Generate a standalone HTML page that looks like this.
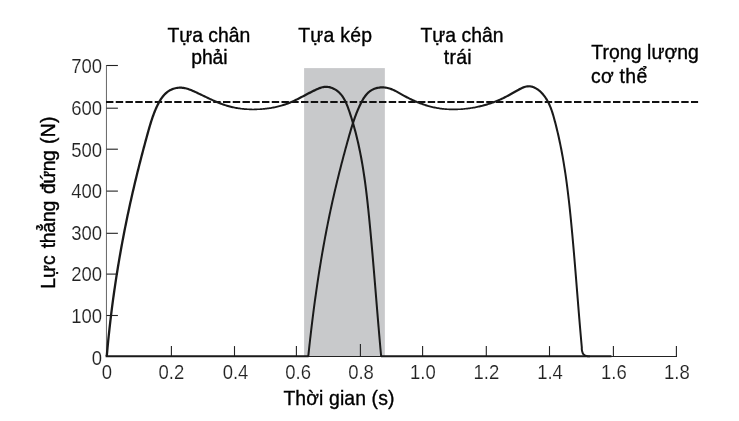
<!DOCTYPE html>
<html><head><meta charset="utf-8"><title>Lực thẳng đứng</title>
<style>html,body{margin:0;padding:0;background:#fff}svg{display:block}text{font-family:"Liberation Sans",Arial,sans-serif}.tk{fill:#222;stroke:#fff;stroke-width:0.15;font-size:18.5px}.lb{fill:#000;stroke:#000;stroke-width:0.35;font-size:19.4px}</style></head><body>
<svg width="739" height="421" viewBox="0 0 739 421">
<rect x="0" y="0" width="739" height="421" fill="#fff"/>
<rect x="304.1" y="68.1" width="80.75" height="288.3" fill="#c8c9cb"/>
<path d="M106.45,65 V356.5" stroke="#555" stroke-width="0.9" fill="none"/>
<g stroke="#222" stroke-width="1.1" fill="none">
<path d="M106,356.5 H677"/>
<path d="M106.5,65.5 H117.9"/>
<path d="M106.5,108.2 H117.9"/>
<path d="M106.5,149.2 H117.9"/>
<path d="M106.5,191.1 H117.9"/>
<path d="M106.5,233.3 H117.9"/>
<path d="M106.5,274.1 H117.9"/>
<path d="M106.5,315.5 H117.9"/>
<path d="M171.4,346.1 V356.5"/>
<path d="M234.5,346.1 V356.5"/>
<path d="M296.4,346.1 V356.5"/>
<path d="M360.4,344.1 V356.5"/>
<path d="M422.6,346.1 V356.5"/>
<path d="M486.3,346.1 V356.5"/>
<path d="M549.5,346.1 V356.5"/>
<path d="M613.4,346.1 V356.5"/>
<path d="M676.4,346.1 V356.5"/>
</g>
<path d="M106.0,102 H698.1" stroke="#111" stroke-width="2" stroke-dasharray="7.4 2.35" fill="none"/>
<path d="M105.6,356.3 H308.6 M381,356.3 H611.5" stroke="#1a1a1a" stroke-width="1.9" fill="none"/>
<path d="M107.92,356.31 L108.01,355.31 L108.10,354.31 L108.19,353.32 L108.28,352.32 L108.37,351.32 L108.46,350.32 L108.55,349.32 L108.64,348.33 L108.73,347.33 L108.83,346.33 L108.92,345.33 L109.02,344.34 L109.12,343.34 L109.22,342.34 L109.31,341.35 L109.41,340.35 L109.51,339.35 L109.62,338.36 L109.72,337.36 L109.82,336.36 L109.92,335.37 L110.03,334.37 L110.13,333.38 L110.24,332.38 L110.35,331.39 L110.46,330.39 L110.56,329.40 L110.67,328.40 L110.78,327.41 L110.90,326.41 L111.01,325.42 L111.12,324.42 L111.24,323.43 L111.35,322.43 L111.47,321.44 L111.58,320.44 L111.70,319.45 L111.82,318.46 L111.94,317.46 L112.06,316.47 L112.18,315.48 L112.30,314.48 L112.42,313.49 L112.55,312.50 L112.67,311.51 L112.79,310.51 L112.92,309.52 L113.05,308.53 L113.17,307.54 L113.30,306.54 L113.43,305.55 L113.56,304.56 L113.69,303.57 L113.83,302.58 L113.96,301.58 L114.09,300.59 L114.23,299.60 L114.36,298.61 L114.50,297.62 L114.63,296.63 L114.77,295.64 L114.91,294.65 L115.05,293.66 L115.19,292.67 L115.33,291.68 L115.47,290.69 L115.61,289.70 L115.76,288.71 L115.90,287.72 L116.05,286.73 L116.19,285.74 L116.34,284.75 L116.49,283.76 L116.64,282.77 L116.79,281.78 L116.94,280.79 L117.09,279.81 L117.24,278.82 L117.39,277.83 L117.55,276.84 L117.70,275.85 L117.86,274.87 L118.01,273.88 L118.17,272.89 L118.33,271.90 L118.49,270.91 L118.65,269.93 L118.81,268.94 L118.97,267.95 L119.13,266.97 L119.29,265.98 L119.46,264.99 L119.62,264.01 L119.79,263.02 L119.95,262.03 L120.12,261.05 L120.29,260.06 L120.46,259.08 L120.63,258.09 L120.80,257.10 L120.97,256.12 L121.14,255.13 L121.31,254.15 L121.49,253.16 L121.66,252.18 L121.84,251.19 L122.01,250.21 L122.19,249.22 L122.37,248.24 L122.55,247.26 L122.73,246.27 L122.91,245.29 L123.09,244.30 L123.27,243.32 L123.45,242.34 L123.64,241.35 L123.82,240.37 L124.01,239.39 L124.19,238.40 L124.38,237.42 L124.57,236.44 L124.76,235.45 L124.95,234.47 L125.14,233.49 L125.33,232.51 L125.52,231.52 L125.71,230.54 L125.91,229.56 L126.10,228.58 L126.30,227.60 L126.49,226.62 L126.69,225.63 L126.89,224.65 L127.09,223.67 L127.28,222.69 L127.49,221.71 L127.69,220.73 L127.89,219.75 L128.09,218.77 L128.29,217.79 L128.50,216.81 L128.70,215.83 L128.91,214.85 L129.12,213.87 L129.33,212.89 L129.53,211.91 L129.74,210.93 L129.95,209.95 L130.17,208.97 L130.38,207.99 L130.59,207.01 L130.80,206.03 L131.02,205.05 L131.23,204.07 L131.45,203.09 L131.67,202.12 L131.88,201.14 L132.10,200.16 L132.32,199.18 L132.54,198.20 L132.76,197.23 L132.98,196.25 L133.21,195.27 L133.43,194.29 L133.65,193.32 L133.88,192.34 L134.11,191.36 L134.33,190.39 L134.56,189.41 L134.79,188.43 L135.02,187.46 L135.25,186.48 L135.48,185.51 L135.71,184.53 L135.94,183.56 L136.17,182.58 L136.41,181.61 L136.64,180.63 L136.87,179.66 L137.11,178.68 L137.35,177.71 L137.58,176.73 L137.82,175.76 L138.06,174.79 L138.30,173.81 L138.54,172.84 L138.78,171.87 L139.02,170.90 L139.26,169.92 L139.51,168.95 L139.75,167.98 L139.99,167.01 L140.24,166.04 L140.48,165.07 L140.73,164.10 L140.98,163.13 L141.22,162.16 L141.47,161.19 L141.72,160.22 L141.97,159.25 L142.22,158.28 L142.47,157.31 L142.72,156.35 L142.97,155.38 L143.23,154.41 L143.48,153.45 L143.73,152.48 L143.99,151.51 L144.24,150.55 L144.50,149.58 L144.76,148.62 L145.01,147.65 L145.27,146.69 L145.53,145.72 L145.79,144.76 L146.05,143.80 L146.31,142.83 L146.57,141.87 L146.83,140.91 L147.09,139.95 L147.35,138.99 L147.62,138.02 L147.88,137.06 L148.14,136.10 L148.41,135.14 L148.67,134.19 L148.94,133.23 L149.21,132.27 L149.47,131.31 L149.74,130.36 L150.01,129.40 L150.29,128.45 L150.56,127.49 L150.84,126.54 L151.12,125.59 L151.41,124.64 L151.70,123.69 L151.99,122.75 L152.29,121.80 L152.59,120.85 L152.90,119.91 L153.21,118.97 L153.53,118.03 L153.86,117.09 L154.19,116.15 L154.53,115.21 L154.88,114.28 L155.24,113.34 L155.60,112.41 L155.98,111.48 L156.36,110.55 L156.75,109.62 L157.16,108.69 L157.57,107.77 L157.99,106.85 L158.42,105.94 L158.87,105.03 L159.33,104.13 L159.80,103.24 L160.28,102.37 L160.78,101.51 L161.29,100.66 L161.82,99.84 L162.37,99.03 L162.93,98.24 L163.51,97.47 L164.10,96.73 L164.72,96.01 L165.35,95.31 L166.00,94.65 L166.68,94.01 L167.37,93.41 L168.09,92.83 L168.82,92.29 L169.58,91.79 L170.37,91.32 L171.18,90.88 L172.01,90.49 L172.87,90.13 L173.76,89.82 L174.67,89.54 L175.61,89.31 L176.56,89.11 L177.52,88.96 L178.49,88.86 L179.46,88.80 L180.43,88.78 L181.39,88.81 L182.34,88.88 L183.28,88.99 L184.22,89.15 L185.15,89.34 L186.08,89.56 L187.00,89.82 L187.92,90.11 L188.84,90.42 L189.75,90.76 L190.66,91.12 L191.58,91.49 L192.49,91.88 L193.40,92.29 L194.31,92.70 L195.22,93.12 L196.13,93.54 L197.05,93.96 L197.96,94.39 L198.87,94.82 L199.78,95.25 L200.68,95.69 L201.59,96.12 L202.50,96.56 L203.41,96.99 L204.32,97.43 L205.23,97.87 L206.14,98.30 L207.06,98.73 L207.97,99.16 L208.88,99.59 L209.80,100.02 L210.71,100.44 L211.63,100.86 L212.55,101.27 L213.47,101.68 L214.39,102.09 L215.32,102.48 L216.25,102.88 L217.17,103.26 L218.11,103.64 L219.04,104.02 L219.98,104.38 L220.92,104.74 L221.86,105.08 L222.81,105.42 L223.76,105.75 L224.71,106.07 L225.67,106.37 L226.63,106.66 L227.60,106.94 L228.57,107.20 L229.54,107.46 L230.52,107.70 L231.50,107.93 L232.48,108.15 L233.47,108.36 L234.45,108.55 L235.44,108.74 L236.44,108.91 L237.43,109.07 L238.43,109.22 L239.43,109.36 L240.43,109.49 L241.43,109.60 L242.43,109.71 L243.44,109.80 L244.45,109.88 L245.45,109.96 L246.46,110.02 L247.47,110.07 L248.48,110.12 L249.49,110.15 L250.51,110.17 L251.52,110.18 L252.53,110.18 L253.54,110.19 L254.56,110.18 L255.57,110.17 L256.58,110.15 L257.60,110.12 L258.61,110.08 L259.62,110.03 L260.63,109.98 L261.65,109.91 L262.66,109.84 L263.67,109.75 L264.68,109.66 L265.68,109.56 L266.69,109.44 L267.70,109.32 L268.70,109.19 L269.70,109.05 L270.71,108.90 L271.71,108.74 L272.70,108.57 L273.70,108.39 L274.69,108.20 L275.68,108.00 L276.67,107.79 L277.66,107.57 L278.64,107.33 L279.62,107.09 L280.60,106.83 L281.57,106.57 L282.54,106.29 L283.51,106.00 L284.47,105.70 L285.43,105.39 L286.38,105.06 L287.33,104.73 L288.28,104.38 L289.22,104.02 L290.16,103.65 L291.09,103.26 L292.02,102.87 L292.94,102.47 L293.86,102.06 L294.78,101.64 L295.69,101.21 L296.60,100.78 L297.50,100.34 L298.41,99.89 L299.31,99.44 L300.21,98.99 L301.11,98.53 L302.00,98.07 L302.89,97.61 L303.79,97.14 L304.68,96.68 L305.57,96.21 L306.46,95.74 L307.36,95.28 L308.25,94.82 L309.14,94.36 L310.03,93.90 L310.93,93.44 L311.82,92.98 L312.71,92.53 L313.61,92.08 L314.51,91.64 L315.41,91.20 L316.31,90.77 L317.21,90.35 L318.12,89.95 L319.02,89.57 L319.92,89.21 L320.82,88.89 L321.72,88.60 L322.62,88.36 L323.52,88.16 L324.41,88.02 L325.32,87.94 L326.22,87.92 L327.14,87.97 L328.07,88.08 L329.00,88.25 L329.93,88.48 L330.86,88.76 L331.77,89.10 L332.67,89.47 L333.55,89.89 L334.41,90.35 L335.23,90.84 L336.01,91.37 L336.77,91.92 L337.49,92.50 L338.19,93.11 L338.85,93.75 L339.49,94.41 L340.10,95.10 L340.69,95.82 L341.25,96.55 L341.79,97.31 L342.31,98.09 L342.81,98.90 L343.29,99.72 L343.75,100.55 L344.20,101.41 L344.62,102.28 L345.04,103.16 L345.44,104.06 L345.82,104.97 L346.20,105.89 L346.56,106.82 L346.92,107.76 L347.26,108.71 L347.60,109.66 L347.94,110.62 L348.26,111.58 L348.59,112.54 L348.91,113.50 L349.23,114.46 L349.54,115.43 L349.86,116.39 L350.16,117.35 L350.47,118.32 L350.77,119.28 L351.06,120.25 L351.36,121.21 L351.64,122.18 L351.93,123.15 L352.21,124.11 L352.49,125.08 L352.77,126.05 L353.04,127.02 L353.31,127.99 L353.58,128.95 L353.84,129.92 L354.10,130.89 L354.36,131.87 L354.61,132.84 L354.86,133.81 L355.11,134.78 L355.35,135.75 L355.59,136.72 L355.83,137.70 L356.07,138.67 L356.30,139.64 L356.53,140.62 L356.76,141.59 L356.98,142.57 L357.20,143.54 L357.42,144.52 L357.64,145.50 L357.85,146.47 L358.06,147.45 L358.27,148.43 L358.47,149.40 L358.67,150.38 L358.87,151.36 L359.07,152.34 L359.27,153.32 L359.46,154.30 L359.65,155.28 L359.84,156.26 L360.02,157.24 L360.21,158.22 L360.39,159.20 L360.57,160.18 L360.74,161.16 L360.92,162.15 L361.09,163.13 L361.26,164.11 L361.43,165.10 L361.59,166.08 L361.75,167.06 L361.92,168.05 L362.08,169.03 L362.23,170.02 L362.39,171.00 L362.54,171.99 L362.69,172.97 L362.84,173.96 L362.99,174.94 L363.14,175.93 L363.28,176.92 L363.43,177.90 L363.57,178.89 L363.71,179.88 L363.85,180.87 L363.98,181.85 L364.12,182.84 L364.25,183.83 L364.38,184.82 L364.51,185.81 L364.64,186.80 L364.77,187.79 L364.89,188.78 L365.02,189.77 L365.14,190.76 L365.26,191.75 L365.38,192.74 L365.50,193.73 L365.62,194.72 L365.74,195.71 L365.86,196.70 L365.97,197.70 L366.08,198.69 L366.20,199.68 L366.31,200.67 L366.42,201.67 L366.53,202.66 L366.64,203.65 L366.75,204.64 L366.85,205.64 L366.96,206.63 L367.06,207.63 L367.17,208.62 L367.27,209.61 L367.38,210.61 L367.48,211.60 L367.58,212.60 L367.68,213.59 L367.78,214.59 L367.88,215.58 L367.98,216.58 L368.08,217.57 L368.18,218.57 L368.28,219.56 L368.37,220.56 L368.47,221.55 L368.57,222.55 L368.66,223.55 L368.76,224.54 L368.86,225.54 L368.95,226.53 L369.05,227.53 L369.14,228.53 L369.24,229.52 L369.33,230.52 L369.42,231.52 L369.52,232.51 L369.61,233.51 L369.70,234.51 L369.79,235.51 L369.89,236.50 L369.98,237.50 L370.07,238.50 L370.16,239.49 L370.25,240.49 L370.34,241.49 L370.43,242.49 L370.52,243.49 L370.61,244.48 L370.70,245.48 L370.79,246.48 L370.88,247.48 L370.97,248.47 L371.05,249.47 L371.14,250.47 L371.23,251.47 L371.32,252.47 L371.41,253.47 L371.49,254.46 L371.58,255.46 L371.67,256.46 L371.75,257.46 L371.84,258.46 L371.92,259.46 L372.01,260.46 L372.10,261.45 L372.18,262.45 L372.27,263.45 L372.35,264.45 L372.44,265.45 L372.52,266.45 L372.61,267.45 L372.69,268.45 L372.78,269.44 L372.86,270.44 L372.94,271.44 L373.03,272.44 L373.11,273.44 L373.19,274.44 L373.28,275.44 L373.36,276.44 L373.44,277.44 L373.53,278.44 L373.61,279.43 L373.69,280.43 L373.78,281.43 L373.86,282.43 L373.94,283.43 L374.03,284.43 L374.11,285.43 L374.19,286.43 L374.27,287.43 L374.36,288.43 L374.44,289.43 L374.52,290.43 L374.60,291.42 L374.69,292.42 L374.77,293.42 L374.85,294.42 L374.93,295.42 L375.01,296.42 L375.10,297.42 L375.18,298.42 L375.26,299.42 L375.34,300.42 L375.43,301.42 L375.51,302.41 L375.59,303.41 L375.67,304.41 L375.76,305.41 L375.84,306.41 L375.92,307.41 L376.00,308.41 L376.09,309.41 L376.17,310.40 L376.25,311.40 L376.33,312.40 L376.42,313.40 L376.50,314.40 L376.58,315.40 L376.67,316.40 L376.75,317.39 L376.83,318.39 L376.92,319.39 L377.00,320.39 L377.08,321.39 L377.17,322.39 L377.25,323.38 L377.34,324.38 L377.42,325.38 L377.51,326.38 L377.59,327.37 L377.68,328.37 L377.76,329.37 L377.85,330.37 L377.93,331.37 L378.02,332.36 L378.10,333.36 L378.19,334.36 L378.27,335.35 L378.36,336.35 L378.45,337.35 L378.53,338.35 L378.62,339.34 L378.71,340.34 L378.79,341.34 L378.88,342.33 L378.97,343.33 L379.06,344.33 L379.15,345.32 L379.23,346.32 L379.32,347.31 L379.41,348.31 L379.50,349.31 L379.59,350.30 L379.68,351.30 L379.77,352.29 L379.86,353.29 L379.95,354.28 L380.04,355.28 L380.13,356.27 L382.13,356.09 L382.03,355.10 L381.94,354.10 L381.85,353.11 L381.76,352.11 L381.67,351.12 L381.58,350.12 L381.50,349.13 L381.41,348.13 L381.32,347.14 L381.23,346.14 L381.14,345.15 L381.05,344.15 L380.97,343.15 L380.88,342.16 L380.79,341.16 L380.70,340.17 L380.62,339.17 L380.53,338.17 L380.44,337.18 L380.36,336.18 L380.27,335.18 L380.19,334.19 L380.10,333.19 L380.02,332.19 L379.93,331.19 L379.85,330.20 L379.76,329.20 L379.68,328.20 L379.59,327.21 L379.51,326.21 L379.42,325.21 L379.34,324.21 L379.25,323.21 L379.17,322.22 L379.09,321.22 L379.00,320.22 L378.92,319.22 L378.84,318.23 L378.75,317.23 L378.67,316.23 L378.59,315.23 L378.51,314.23 L378.42,313.23 L378.34,312.24 L378.26,311.24 L378.17,310.24 L378.09,309.24 L378.01,308.24 L377.93,307.24 L377.85,306.24 L377.76,305.25 L377.68,304.25 L377.60,303.25 L377.52,302.25 L377.43,301.25 L377.35,300.25 L377.27,299.25 L377.19,298.25 L377.11,297.25 L377.02,296.25 L376.94,295.26 L376.86,294.26 L376.78,293.26 L376.70,292.26 L376.61,291.26 L376.53,290.26 L376.45,289.26 L376.37,288.26 L376.29,287.26 L376.20,286.26 L376.12,285.26 L376.04,284.26 L375.96,283.27 L375.87,282.27 L375.79,281.27 L375.71,280.27 L375.62,279.27 L375.54,278.27 L375.46,277.27 L375.38,276.27 L375.29,275.27 L375.21,274.27 L375.13,273.27 L375.04,272.27 L374.96,271.27 L374.88,270.27 L374.79,269.27 L374.71,268.28 L374.62,267.28 L374.54,266.28 L374.45,265.28 L374.37,264.28 L374.28,263.28 L374.20,262.28 L374.11,261.28 L374.03,260.28 L373.94,259.28 L373.86,258.28 L373.77,257.29 L373.69,256.29 L373.60,255.29 L373.51,254.29 L373.43,253.29 L373.34,252.29 L373.25,251.29 L373.16,250.29 L373.08,249.29 L372.99,248.30 L372.90,247.30 L372.81,246.30 L372.72,245.30 L372.63,244.30 L372.54,243.30 L372.45,242.31 L372.36,241.31 L372.27,240.31 L372.18,239.31 L372.09,238.31 L372.00,237.31 L371.91,236.32 L371.82,235.32 L371.73,234.32 L371.63,233.32 L371.54,232.33 L371.45,231.33 L371.36,230.33 L371.26,229.33 L371.17,228.34 L371.07,227.34 L370.98,226.34 L370.88,225.34 L370.79,224.35 L370.69,223.35 L370.60,222.35 L370.50,221.36 L370.40,220.36 L370.30,219.36 L370.21,218.37 L370.11,217.37 L370.01,216.37 L369.91,215.38 L369.81,214.38 L369.71,213.39 L369.61,212.39 L369.51,211.39 L369.41,210.40 L369.30,209.40 L369.20,208.41 L369.09,207.41 L368.99,206.42 L368.88,205.42 L368.78,204.43 L368.67,203.43 L368.56,202.44 L368.45,201.44 L368.34,200.45 L368.23,199.45 L368.12,198.46 L368.00,197.46 L367.89,196.47 L367.77,195.47 L367.65,194.48 L367.54,193.49 L367.42,192.49 L367.30,191.50 L367.17,190.51 L367.05,189.51 L366.93,188.52 L366.80,187.53 L366.67,186.54 L366.54,185.54 L366.41,184.55 L366.28,183.56 L366.15,182.57 L366.01,181.58 L365.88,180.58 L365.74,179.59 L365.60,178.60 L365.46,177.61 L365.32,176.62 L365.17,175.63 L365.03,174.64 L364.88,173.65 L364.73,172.66 L364.57,171.67 L364.42,170.68 L364.27,169.69 L364.11,168.70 L363.95,167.72 L363.79,166.73 L363.62,165.74 L363.46,164.75 L363.29,163.76 L363.12,162.78 L362.95,161.79 L362.77,160.80 L362.60,159.82 L362.42,158.83 L362.24,157.84 L362.05,156.86 L361.87,155.87 L361.68,154.89 L361.49,153.90 L361.30,152.92 L361.10,151.93 L360.90,150.95 L360.70,149.97 L360.50,148.98 L360.29,148.00 L360.08,147.02 L359.87,146.03 L359.66,145.05 L359.44,144.07 L359.22,143.09 L359.00,142.11 L358.78,141.13 L358.55,140.15 L358.32,139.17 L358.09,138.19 L357.85,137.21 L357.61,136.23 L357.37,135.25 L357.12,134.27 L356.88,133.29 L356.63,132.31 L356.37,131.34 L356.11,130.36 L355.85,129.38 L355.59,128.41 L355.32,127.43 L355.05,126.46 L354.78,125.48 L354.50,124.51 L354.22,123.53 L353.94,122.56 L353.65,121.58 L353.36,120.61 L353.06,119.64 L352.77,118.66 L352.47,117.69 L352.16,116.72 L351.85,115.75 L351.54,114.78 L351.23,113.81 L350.91,112.84 L350.58,111.87 L350.26,110.90 L349.93,109.93 L349.59,108.96 L349.24,107.99 L348.89,107.03 L348.53,106.07 L348.16,105.11 L347.77,104.16 L347.38,103.22 L346.96,102.29 L346.54,101.37 L346.09,100.45 L345.63,99.55 L345.14,98.67 L344.63,97.80 L344.10,96.94 L343.55,96.11 L342.97,95.29 L342.37,94.49 L341.73,93.72 L341.07,92.96 L340.37,92.24 L339.64,91.53 L338.88,90.86 L338.08,90.21 L337.25,89.60 L336.38,89.02 L335.48,88.47 L334.54,87.96 L333.57,87.49 L332.57,87.07 L331.55,86.70 L330.52,86.37 L329.46,86.11 L328.40,85.91 L327.33,85.78 L326.26,85.72 L325.20,85.73 L324.15,85.82 L323.12,85.98 L322.10,86.19 L321.10,86.46 L320.11,86.76 L319.13,87.11 L318.17,87.48 L317.22,87.88 L316.28,88.29 L315.35,88.72 L314.43,89.15 L313.51,89.59 L312.60,90.03 L311.69,90.48 L310.78,90.94 L309.88,91.39 L308.98,91.86 L308.08,92.33 L307.19,92.80 L306.30,93.28 L305.41,93.75 L304.52,94.23 L303.64,94.71 L302.75,95.18 L301.87,95.65 L300.98,96.12 L300.10,96.59 L299.21,97.05 L298.33,97.51 L297.44,97.97 L296.55,98.42 L295.66,98.86 L294.77,99.30 L293.88,99.73 L292.99,100.15 L292.09,100.56 L291.19,100.96 L290.29,101.36 L289.38,101.74 L288.47,102.12 L287.55,102.48 L286.64,102.83 L285.71,103.17 L284.78,103.49 L283.85,103.81 L282.92,104.12 L281.98,104.41 L281.03,104.70 L280.08,104.97 L279.13,105.23 L278.18,105.48 L277.22,105.72 L276.25,105.95 L275.29,106.18 L274.32,106.39 L273.35,106.59 L272.37,106.78 L271.40,106.96 L270.42,107.13 L269.44,107.29 L268.45,107.44 L267.47,107.58 L266.48,107.72 L265.49,107.84 L264.50,107.95 L263.51,108.06 L262.51,108.16 L261.52,108.24 L260.52,108.32 L259.52,108.39 L258.53,108.46 L257.53,108.51 L256.53,108.55 L255.53,108.59 L254.54,108.61 L253.54,108.63 L252.54,108.63 L251.54,108.61 L250.55,108.58 L249.55,108.54 L248.56,108.50 L247.56,108.44 L246.57,108.37 L245.58,108.29 L244.59,108.20 L243.60,108.11 L242.62,108.00 L241.63,107.88 L240.65,107.75 L239.67,107.61 L238.70,107.46 L237.72,107.30 L236.75,107.12 L235.78,106.94 L234.81,106.74 L233.85,106.54 L232.89,106.32 L231.94,106.09 L230.98,105.85 L230.03,105.60 L229.09,105.34 L228.14,105.06 L227.21,104.77 L226.27,104.48 L225.34,104.17 L224.41,103.85 L223.48,103.53 L222.55,103.19 L221.63,102.85 L220.71,102.49 L219.79,102.13 L218.87,101.76 L217.95,101.39 L217.04,101.00 L216.12,100.61 L215.21,100.21 L214.30,99.81 L213.39,99.40 L212.48,98.99 L211.58,98.57 L210.67,98.14 L209.76,97.72 L208.85,97.29 L207.95,96.86 L207.04,96.42 L206.14,95.98 L205.23,95.55 L204.32,95.11 L203.41,94.67 L202.51,94.23 L201.60,93.79 L200.69,93.35 L199.78,92.91 L198.86,92.48 L197.95,92.04 L197.03,91.61 L196.12,91.18 L195.20,90.76 L194.27,90.34 L193.35,89.92 L192.41,89.52 L191.47,89.12 L190.52,88.75 L189.56,88.39 L188.60,88.05 L187.62,87.74 L186.63,87.46 L185.63,87.22 L184.62,87.00 L183.60,86.83 L182.56,86.70 L181.51,86.62 L180.45,86.58 L179.38,86.60 L178.31,86.66 L177.24,86.77 L176.18,86.94 L175.12,87.14 L174.09,87.40 L173.07,87.70 L172.08,88.05 L171.11,88.45 L170.17,88.89 L169.27,89.37 L168.39,89.90 L167.54,90.46 L166.72,91.05 L165.93,91.68 L165.17,92.35 L164.43,93.04 L163.72,93.76 L163.03,94.51 L162.37,95.29 L161.73,96.08 L161.11,96.90 L160.51,97.74 L159.93,98.59 L159.37,99.46 L158.83,100.35 L158.31,101.25 L157.80,102.16 L157.31,103.08 L156.84,104.01 L156.37,104.95 L155.93,105.89 L155.49,106.83 L155.07,107.77 L154.66,108.72 L154.26,109.67 L153.86,110.62 L153.48,111.57 L153.11,112.52 L152.74,113.47 L152.39,114.42 L152.04,115.37 L151.70,116.33 L151.37,117.28 L151.04,118.23 L150.72,119.19 L150.41,120.15 L150.10,121.10 L149.80,122.06 L149.50,123.02 L149.21,123.98 L148.92,124.93 L148.63,125.89 L148.35,126.85 L148.08,127.81 L147.80,128.77 L147.53,129.73 L147.26,130.69 L146.99,131.65 L146.72,132.61 L146.46,133.57 L146.19,134.53 L145.93,135.49 L145.66,136.46 L145.40,137.42 L145.14,138.38 L144.87,139.34 L144.61,140.31 L144.35,141.27 L144.09,142.23 L143.83,143.20 L143.57,144.16 L143.31,145.13 L143.05,146.09 L142.79,147.06 L142.53,148.02 L142.28,148.99 L142.02,149.96 L141.77,150.93 L141.51,151.89 L141.26,152.86 L141.00,153.83 L140.75,154.80 L140.50,155.77 L140.24,156.74 L139.99,157.71 L139.74,158.68 L139.49,159.65 L139.24,160.62 L139.00,161.59 L138.75,162.56 L138.50,163.53 L138.25,164.50 L138.01,165.48 L137.76,166.45 L137.52,167.42 L137.27,168.39 L137.03,169.37 L136.79,170.34 L136.55,171.32 L136.31,172.29 L136.07,173.26 L135.83,174.24 L135.59,175.21 L135.35,176.19 L135.11,177.16 L134.87,178.14 L134.64,179.12 L134.40,180.09 L134.17,181.07 L133.93,182.05 L133.70,183.02 L133.47,184.00 L133.24,184.98 L133.01,185.95 L132.78,186.93 L132.55,187.91 L132.32,188.89 L132.09,189.87 L131.86,190.84 L131.64,191.82 L131.41,192.80 L131.19,193.78 L130.96,194.76 L130.74,195.74 L130.52,196.72 L130.30,197.70 L130.08,198.68 L129.86,199.66 L129.64,200.64 L129.42,201.62 L129.20,202.60 L128.99,203.58 L128.77,204.56 L128.56,205.54 L128.34,206.52 L128.13,207.50 L127.92,208.48 L127.71,209.46 L127.49,210.45 L127.28,211.43 L127.08,212.41 L126.87,213.39 L126.66,214.37 L126.45,215.35 L126.25,216.34 L126.04,217.32 L125.84,218.30 L125.64,219.28 L125.43,220.27 L125.23,221.25 L125.03,222.23 L124.83,223.21 L124.63,224.20 L124.43,225.18 L124.24,226.16 L124.04,227.15 L123.84,228.13 L123.65,229.11 L123.46,230.10 L123.26,231.08 L123.07,232.07 L122.88,233.05 L122.69,234.04 L122.50,235.02 L122.31,236.00 L122.12,236.99 L121.93,237.97 L121.75,238.96 L121.56,239.94 L121.37,240.93 L121.19,241.92 L121.01,242.90 L120.83,243.89 L120.64,244.87 L120.46,245.86 L120.28,246.84 L120.10,247.83 L119.93,248.82 L119.75,249.80 L119.57,250.79 L119.40,251.78 L119.22,252.76 L119.05,253.75 L118.87,254.74 L118.70,255.72 L118.53,256.71 L118.36,257.70 L118.19,258.69 L118.02,259.67 L117.85,260.66 L117.68,261.65 L117.52,262.64 L117.35,263.63 L117.19,264.62 L117.02,265.60 L116.86,266.59 L116.70,267.58 L116.54,268.57 L116.38,269.56 L116.22,270.55 L116.06,271.54 L115.90,272.53 L115.74,273.52 L115.58,274.51 L115.43,275.50 L115.27,276.49 L115.12,277.48 L114.97,278.47 L114.81,279.46 L114.66,280.45 L114.51,281.44 L114.36,282.43 L114.21,283.42 L114.07,284.41 L113.92,285.40 L113.77,286.39 L113.63,287.39 L113.48,288.38 L113.34,289.37 L113.20,290.36 L113.05,291.35 L112.91,292.34 L112.77,293.34 L112.63,294.33 L112.49,295.32 L112.36,296.31 L112.22,297.31 L112.08,298.30 L111.95,299.29 L111.81,300.29 L111.68,301.28 L111.55,302.27 L111.41,303.27 L111.28,304.26 L111.15,305.25 L111.02,306.25 L110.89,307.24 L110.77,308.24 L110.64,309.23 L110.51,310.22 L110.39,311.22 L110.26,312.21 L110.14,313.21 L110.02,314.20 L109.90,315.20 L109.77,316.19 L109.65,317.19 L109.53,318.18 L109.42,319.18 L109.30,320.18 L109.18,321.17 L109.07,322.17 L108.95,323.16 L108.84,324.16 L108.72,325.16 L108.61,326.15 L108.50,327.15 L108.39,328.15 L108.28,329.14 L108.17,330.14 L108.06,331.14 L107.95,332.14 L107.85,333.13 L107.74,334.13 L107.64,335.13 L107.53,336.13 L107.43,337.12 L107.33,338.12 L107.23,339.12 L107.12,340.12 L107.03,341.12 L106.93,342.12 L106.83,343.12 L106.73,344.11 L106.63,345.11 L106.54,346.11 L106.44,347.11 L106.35,348.11 L106.26,349.11 L106.17,350.11 L106.07,351.11 L105.98,352.11 L105.90,353.11 L105.81,354.11 L105.72,355.11 L105.63,356.11Z" fill="#1a1a1a"/>
<path d="M309.30,356.29 L309.40,355.29 L309.51,354.30 L309.61,353.30 L309.72,352.31 L309.82,351.31 L309.93,350.31 L310.03,349.32 L310.14,348.32 L310.25,347.33 L310.36,346.33 L310.47,345.34 L310.58,344.34 L310.69,343.35 L310.80,342.35 L310.91,341.36 L311.02,340.36 L311.13,339.37 L311.24,338.37 L311.36,337.38 L311.47,336.38 L311.58,335.39 L311.70,334.39 L311.81,333.40 L311.93,332.41 L312.04,331.41 L312.16,330.42 L312.28,329.42 L312.40,328.43 L312.52,327.43 L312.64,326.44 L312.75,325.45 L312.88,324.45 L313.00,323.46 L313.12,322.46 L313.24,321.47 L313.36,320.48 L313.49,319.48 L313.61,318.49 L313.73,317.49 L313.86,316.50 L313.99,315.51 L314.11,314.51 L314.24,313.52 L314.37,312.53 L314.50,311.53 L314.62,310.54 L314.75,309.55 L314.88,308.55 L315.02,307.56 L315.15,306.57 L315.28,305.58 L315.41,304.58 L315.55,303.59 L315.68,302.60 L315.81,301.61 L315.95,300.61 L316.09,299.62 L316.22,298.63 L316.36,297.64 L316.50,296.64 L316.64,295.65 L316.78,294.66 L316.92,293.67 L317.06,292.68 L317.20,291.69 L317.34,290.70 L317.48,289.70 L317.63,288.71 L317.77,287.72 L317.92,286.73 L318.06,285.74 L318.21,284.75 L318.36,283.76 L318.50,282.77 L318.65,281.78 L318.80,280.79 L318.95,279.80 L319.10,278.81 L319.25,277.82 L319.41,276.83 L319.56,275.84 L319.71,274.85 L319.87,273.86 L320.02,272.87 L320.18,271.88 L320.33,270.89 L320.49,269.90 L320.65,268.91 L320.81,267.92 L320.97,266.94 L321.13,265.95 L321.29,264.96 L321.45,263.97 L321.62,262.98 L321.78,262.00 L321.94,261.01 L322.11,260.02 L322.27,259.03 L322.44,258.04 L322.61,257.06 L322.78,256.07 L322.95,255.08 L323.12,254.10 L323.29,253.11 L323.46,252.12 L323.63,251.14 L323.80,250.15 L323.98,249.17 L324.15,248.18 L324.33,247.19 L324.50,246.21 L324.68,245.22 L324.86,244.24 L325.04,243.25 L325.22,242.27 L325.40,241.28 L325.58,240.30 L325.76,239.31 L325.95,238.33 L326.13,237.34 L326.31,236.36 L326.50,235.38 L326.69,234.39 L326.87,233.41 L327.06,232.43 L327.25,231.44 L327.44,230.46 L327.63,229.48 L327.82,228.50 L328.02,227.51 L328.21,226.53 L328.40,225.55 L328.60,224.57 L328.80,223.58 L328.99,222.60 L329.19,221.62 L329.39,220.64 L329.59,219.66 L329.79,218.68 L329.99,217.70 L330.20,216.72 L330.40,215.74 L330.60,214.76 L330.81,213.78 L331.02,212.80 L331.22,211.82 L331.43,210.84 L331.64,209.86 L331.85,208.88 L332.06,207.90 L332.27,206.93 L332.49,205.95 L332.70,204.97 L332.91,203.99 L333.13,203.01 L333.35,202.04 L333.56,201.06 L333.78,200.08 L334.00,199.11 L334.22,198.13 L334.44,197.15 L334.67,196.18 L334.89,195.20 L335.11,194.22 L335.34,193.25 L335.57,192.27 L335.79,191.30 L336.02,190.32 L336.25,189.35 L336.48,188.37 L336.71,187.40 L336.94,186.43 L337.17,185.45 L337.41,184.48 L337.64,183.51 L337.88,182.53 L338.11,181.56 L338.35,180.59 L338.59,179.61 L338.83,178.64 L339.06,177.67 L339.30,176.70 L339.55,175.73 L339.79,174.75 L340.03,173.78 L340.27,172.81 L340.52,171.84 L340.76,170.87 L341.01,169.90 L341.26,168.93 L341.50,167.96 L341.75,166.99 L342.00,166.02 L342.25,165.05 L342.50,164.08 L342.76,163.11 L343.01,162.14 L343.26,161.17 L343.52,160.21 L343.77,159.24 L344.03,158.27 L344.28,157.30 L344.54,156.34 L344.80,155.37 L345.06,154.40 L345.32,153.44 L345.58,152.47 L345.84,151.50 L346.10,150.54 L346.36,149.57 L346.63,148.61 L346.90,147.64 L347.16,146.68 L347.43,145.71 L347.70,144.75 L347.97,143.78 L348.23,142.82 L348.50,141.86 L348.78,140.89 L349.05,139.93 L349.32,138.97 L349.59,138.01 L349.87,137.04 L350.14,136.08 L350.42,135.12 L350.69,134.16 L350.97,133.20 L351.25,132.24 L351.53,131.29 L351.82,130.33 L352.10,129.37 L352.39,128.42 L352.69,127.47 L352.98,126.51 L353.28,125.56 L353.58,124.61 L353.89,123.67 L354.20,122.72 L354.52,121.77 L354.84,120.83 L355.16,119.89 L355.49,118.95 L355.82,118.01 L356.16,117.08 L356.51,116.15 L356.86,115.22 L357.22,114.29 L357.59,113.36 L357.96,112.44 L358.34,111.51 L358.72,110.60 L359.11,109.68 L359.51,108.76 L359.92,107.85 L360.34,106.95 L360.76,106.04 L361.19,105.14 L361.63,104.24 L362.08,103.34 L362.54,102.45 L363.01,101.58 L363.49,100.71 L363.98,99.86 L364.49,99.03 L365.02,98.21 L365.56,97.42 L366.12,96.65 L366.70,95.90 L367.30,95.18 L367.93,94.49 L368.58,93.83 L369.25,93.20 L369.94,92.61 L370.67,92.05 L371.42,91.53 L372.21,91.04 L373.02,90.60 L373.87,90.20 L374.76,89.84 L375.67,89.52 L376.62,89.24 L377.58,89.01 L378.56,88.82 L379.55,88.67 L380.55,88.57 L381.54,88.51 L382.53,88.49 L383.51,88.52 L384.48,88.59 L385.43,88.70 L386.37,88.85 L387.30,89.04 L388.22,89.27 L389.13,89.53 L390.03,89.82 L390.92,90.14 L391.81,90.49 L392.70,90.87 L393.58,91.26 L394.45,91.68 L395.33,92.12 L396.20,92.57 L397.07,93.04 L397.94,93.52 L398.81,94.00 L399.68,94.50 L400.56,94.99 L401.44,95.49 L402.32,95.99 L403.21,96.48 L404.10,96.97 L404.99,97.45 L405.89,97.92 L406.79,98.39 L407.70,98.85 L408.61,99.31 L409.52,99.76 L410.43,100.20 L411.35,100.63 L412.27,101.06 L413.19,101.47 L414.12,101.89 L415.05,102.29 L415.98,102.68 L416.91,103.07 L417.85,103.45 L418.79,103.82 L419.74,104.18 L420.69,104.53 L421.64,104.87 L422.59,105.20 L423.55,105.52 L424.51,105.83 L425.47,106.14 L426.43,106.43 L427.40,106.71 L428.37,106.98 L429.34,107.24 L430.32,107.49 L431.30,107.74 L432.28,107.96 L433.26,108.18 L434.25,108.39 L435.23,108.59 L436.22,108.77 L437.21,108.94 L438.21,109.10 L439.20,109.25 L440.20,109.39 L441.20,109.52 L442.20,109.63 L443.20,109.74 L444.21,109.83 L445.21,109.92 L446.22,109.99 L447.23,110.05 L448.23,110.11 L449.24,110.15 L450.25,110.18 L451.26,110.20 L452.27,110.21 L453.28,110.21 L454.30,110.21 L455.31,110.19 L456.32,110.16 L457.33,110.13 L458.34,110.10 L459.36,110.06 L460.37,110.01 L461.38,109.95 L462.39,109.88 L463.40,109.80 L464.41,109.71 L465.42,109.62 L466.43,109.51 L467.44,109.40 L468.45,109.28 L469.46,109.15 L470.46,109.02 L471.47,108.87 L472.47,108.72 L473.47,108.55 L474.47,108.38 L475.47,108.20 L476.47,108.01 L477.47,107.82 L478.46,107.61 L479.45,107.40 L480.44,107.18 L481.43,106.95 L482.41,106.71 L483.39,106.46 L484.37,106.21 L485.35,105.94 L486.32,105.67 L487.29,105.39 L488.26,105.10 L489.22,104.81 L490.18,104.50 L491.14,104.19 L492.09,103.86 L493.04,103.53 L493.98,103.19 L494.92,102.85 L495.86,102.49 L496.80,102.13 L497.72,101.75 L498.65,101.37 L499.57,100.98 L500.48,100.59 L501.39,100.18 L502.30,99.77 L503.20,99.35 L504.09,98.91 L504.98,98.48 L505.87,98.03 L506.75,97.58 L507.63,97.12 L508.50,96.65 L509.37,96.17 L510.25,95.69 L511.12,95.21 L512.00,94.72 L512.88,94.22 L513.77,93.72 L514.66,93.22 L515.56,92.71 L516.46,92.19 L517.37,91.67 L518.29,91.14 L519.22,90.63 L520.15,90.13 L521.08,89.65 L522.01,89.20 L522.93,88.79 L523.85,88.41 L524.76,88.09 L525.66,87.82 L526.55,87.61 L527.43,87.46 L528.29,87.38 L529.14,87.37 L529.99,87.43 L530.84,87.56 L531.68,87.74 L532.51,87.98 L533.34,88.28 L534.16,88.64 L534.97,89.04 L535.77,89.49 L536.56,89.99 L537.34,90.53 L538.10,91.11 L538.85,91.72 L539.58,92.37 L540.29,93.05 L540.98,93.75 L541.66,94.47 L542.31,95.22 L542.93,95.98 L543.54,96.75 L544.12,97.53 L544.67,98.33 L545.21,99.14 L545.73,99.97 L546.23,100.80 L546.70,101.65 L547.16,102.50 L547.61,103.37 L548.03,104.24 L548.45,105.13 L548.84,106.02 L549.22,106.93 L549.59,107.84 L549.95,108.75 L550.29,109.68 L550.63,110.61 L550.95,111.55 L551.26,112.49 L551.56,113.44 L551.86,114.39 L552.15,115.35 L552.43,116.31 L552.71,117.28 L552.98,118.25 L553.25,119.21 L553.51,120.19 L553.77,121.16 L554.03,122.13 L554.28,123.10 L554.54,124.08 L554.79,125.05 L555.04,126.02 L555.28,127.00 L555.52,127.97 L555.76,128.95 L556.00,129.92 L556.24,130.90 L556.47,131.87 L556.70,132.85 L556.93,133.83 L557.15,134.80 L557.38,135.78 L557.60,136.76 L557.81,137.73 L558.03,138.71 L558.24,139.69 L558.46,140.67 L558.66,141.65 L558.87,142.63 L559.08,143.61 L559.28,144.59 L559.48,145.57 L559.68,146.55 L559.87,147.53 L560.07,148.51 L560.26,149.49 L560.45,150.47 L560.64,151.46 L560.82,152.44 L561.01,153.42 L561.19,154.40 L561.37,155.39 L561.55,156.37 L561.72,157.35 L561.90,158.34 L562.07,159.32 L562.24,160.30 L562.41,161.29 L562.57,162.27 L562.74,163.26 L562.90,164.24 L563.06,165.23 L563.22,166.22 L563.38,167.20 L563.54,168.19 L563.69,169.18 L563.85,170.16 L564.00,171.15 L564.15,172.14 L564.30,173.12 L564.44,174.11 L564.59,175.10 L564.73,176.09 L564.87,177.08 L565.01,178.07 L565.15,179.05 L565.29,180.04 L565.42,181.03 L565.56,182.02 L565.69,183.01 L565.83,184.00 L565.96,184.99 L566.09,185.98 L566.21,186.97 L566.34,187.96 L566.47,188.96 L566.59,189.95 L566.72,190.94 L566.84,191.93 L566.96,192.92 L567.08,193.91 L567.20,194.91 L567.32,195.90 L567.43,196.89 L567.55,197.88 L567.66,198.88 L567.78,199.87 L567.89,200.86 L568.00,201.86 L568.11,202.85 L568.23,203.84 L568.33,204.84 L568.44,205.83 L568.55,206.83 L568.66,207.82 L568.76,208.81 L568.87,209.81 L568.97,210.80 L569.08,211.80 L569.18,212.79 L569.28,213.79 L569.39,214.79 L569.49,215.78 L569.59,216.78 L569.69,217.77 L569.79,218.77 L569.89,219.76 L569.99,220.76 L570.08,221.76 L570.18,222.75 L570.28,223.75 L570.38,224.75 L570.47,225.74 L570.57,226.74 L570.66,227.74 L570.76,228.73 L570.85,229.73 L570.94,230.73 L571.04,231.73 L571.13,232.72 L571.22,233.72 L571.32,234.72 L571.41,235.72 L571.50,236.71 L571.59,237.71 L571.68,238.71 L571.77,239.71 L571.86,240.71 L571.95,241.70 L572.04,242.70 L572.13,243.70 L572.22,244.70 L572.30,245.70 L572.39,246.69 L572.48,247.69 L572.57,248.69 L572.65,249.69 L572.74,250.69 L572.82,251.69 L572.91,252.69 L573.00,253.69 L573.08,254.68 L573.17,255.68 L573.25,256.68 L573.34,257.68 L573.42,258.68 L573.50,259.68 L573.59,260.68 L573.67,261.68 L573.76,262.68 L573.84,263.68 L573.92,264.68 L574.00,265.68 L574.09,266.68 L574.17,267.67 L574.25,268.67 L574.33,269.67 L574.42,270.67 L574.50,271.67 L574.58,272.67 L574.66,273.67 L574.74,274.67 L574.82,275.67 L574.90,276.67 L574.99,277.67 L575.07,278.67 L575.15,279.67 L575.23,280.67 L575.31,281.67 L575.39,282.67 L575.47,283.67 L575.55,284.67 L575.63,285.67 L575.71,286.67 L575.79,287.67 L575.87,288.67 L575.95,289.67 L576.03,290.67 L576.11,291.67 L576.19,292.66 L576.27,293.66 L576.35,294.66 L576.43,295.66 L576.51,296.66 L576.59,297.66 L576.68,298.66 L576.76,299.66 L576.84,300.66 L576.92,301.66 L577.00,302.66 L577.08,303.66 L577.16,304.66 L577.24,305.66 L577.32,306.66 L577.40,307.65 L577.48,308.65 L577.57,309.65 L577.65,310.65 L577.73,311.65 L577.81,312.65 L577.89,313.65 L577.98,314.65 L578.06,315.65 L578.14,316.64 L578.22,317.64 L578.31,318.64 L578.39,319.64 L578.47,320.64 L578.56,321.64 L578.64,322.63 L578.72,323.63 L578.81,324.63 L578.89,325.63 L578.98,326.63 L579.06,327.62 L579.15,328.62 L579.23,329.62 L579.32,330.62 L579.40,331.62 L579.49,332.61 L579.58,333.61 L579.66,334.61 L579.75,335.60 L579.84,336.60 L579.93,337.60 L580.01,338.60 L580.10,339.59 L580.19,340.59 L580.28,341.58 L580.37,342.58 L580.46,343.58 L580.55,344.57 L580.64,345.57 L580.73,346.57 L580.82,347.51 L580.79,347.93 L580.78,348.46 L580.80,348.99 L580.83,349.52 L580.89,350.04 L580.97,350.57 L581.07,351.09 L581.19,351.60 L581.34,352.11 L581.50,352.62 L581.69,353.13 L581.91,353.65 L582.19,354.17 L582.52,354.65 L582.89,355.09 L583.31,355.49 L583.78,355.85 L584.28,356.16 L584.80,356.42 L585.31,356.64 L585.83,356.82 L586.35,356.97 L586.88,357.10 L587.41,357.19 L587.95,357.25 L588.49,357.27 L589.03,357.27 L589.57,357.23 L590.09,357.17 L589.91,355.43 L589.43,355.47 L588.99,355.48 L588.55,355.47 L588.12,355.44 L587.70,355.37 L587.27,355.29 L586.86,355.17 L586.44,355.03 L586.03,354.87 L585.62,354.68 L585.24,354.48 L584.91,354.26 L584.61,354.02 L584.35,353.75 L584.11,353.46 L583.91,353.14 L583.72,352.79 L583.55,352.39 L583.39,351.96 L583.25,351.53 L583.13,351.10 L583.02,350.66 L582.94,350.22 L582.87,349.79 L582.82,349.34 L582.79,348.90 L582.78,348.45 L582.79,348.00 L582.82,347.43 L582.72,346.38 L582.63,345.39 L582.54,344.39 L582.45,343.40 L582.36,342.40 L582.27,341.41 L582.18,340.41 L582.09,339.41 L582.01,338.42 L581.92,337.42 L581.83,336.43 L581.74,335.43 L581.66,334.43 L581.57,333.44 L581.48,332.44 L581.40,331.44 L581.31,330.45 L581.22,329.45 L581.14,328.45 L581.05,327.45 L580.97,326.46 L580.88,325.46 L580.80,324.46 L580.72,323.47 L580.63,322.47 L580.55,321.47 L580.46,320.47 L580.38,319.47 L580.30,318.48 L580.22,317.48 L580.13,316.48 L580.05,315.48 L579.97,314.48 L579.89,313.48 L579.80,312.49 L579.72,311.49 L579.64,310.49 L579.56,309.49 L579.48,308.49 L579.40,307.49 L579.32,306.49 L579.23,305.49 L579.15,304.50 L579.07,303.50 L578.99,302.50 L578.91,301.50 L578.83,300.50 L578.75,299.50 L578.67,298.50 L578.59,297.50 L578.51,296.50 L578.43,295.50 L578.35,294.50 L578.27,293.50 L578.19,292.50 L578.11,291.51 L578.03,290.51 L577.95,289.51 L577.87,288.51 L577.78,287.51 L577.70,286.51 L577.62,285.51 L577.54,284.51 L577.46,283.51 L577.38,282.51 L577.30,281.51 L577.22,280.51 L577.14,279.51 L577.06,278.51 L576.98,277.51 L576.90,276.51 L576.82,275.51 L576.74,274.51 L576.65,273.51 L576.57,272.51 L576.49,271.51 L576.41,270.51 L576.33,269.51 L576.24,268.51 L576.16,267.51 L576.08,266.51 L576.00,265.51 L575.91,264.51 L575.83,263.51 L575.75,262.51 L575.66,261.51 L575.58,260.51 L575.50,259.51 L575.41,258.51 L575.33,257.51 L575.24,256.51 L575.16,255.51 L575.07,254.51 L574.99,253.52 L574.90,252.52 L574.82,251.52 L574.73,250.52 L574.64,249.52 L574.56,248.52 L574.47,247.52 L574.38,246.52 L574.30,245.52 L574.21,244.52 L574.12,243.52 L574.03,242.52 L573.94,241.53 L573.85,240.53 L573.76,239.53 L573.67,238.53 L573.58,237.53 L573.49,236.53 L573.40,235.53 L573.31,234.53 L573.22,233.54 L573.12,232.54 L573.03,231.54 L572.94,230.54 L572.84,229.54 L572.75,228.55 L572.65,227.55 L572.56,226.55 L572.46,225.55 L572.37,224.55 L572.27,223.56 L572.17,222.56 L572.07,221.56 L571.98,220.56 L571.88,219.57 L571.78,218.57 L571.68,217.57 L571.58,216.58 L571.48,215.58 L571.38,214.58 L571.27,213.59 L571.17,212.59 L571.07,211.59 L570.96,210.60 L570.86,209.60 L570.75,208.60 L570.65,207.61 L570.54,206.61 L570.43,205.62 L570.32,204.62 L570.21,203.62 L570.10,202.63 L569.99,201.63 L569.88,200.64 L569.77,199.64 L569.65,198.65 L569.54,197.65 L569.42,196.66 L569.30,195.66 L569.18,194.67 L569.07,193.67 L568.94,192.68 L568.82,191.69 L568.70,190.69 L568.58,189.70 L568.45,188.71 L568.33,187.71 L568.20,186.72 L568.07,185.73 L567.94,184.73 L567.81,183.74 L567.68,182.75 L567.54,181.75 L567.41,180.76 L567.27,179.77 L567.13,178.78 L566.99,177.79 L566.85,176.79 L566.71,175.80 L566.57,174.81 L566.42,173.82 L566.27,172.83 L566.12,171.84 L565.98,170.85 L565.82,169.86 L565.67,168.87 L565.52,167.88 L565.36,166.89 L565.20,165.90 L565.04,164.91 L564.88,163.92 L564.72,162.93 L564.56,161.94 L564.39,160.95 L564.22,159.96 L564.05,158.98 L563.88,157.99 L563.71,157.00 L563.53,156.01 L563.35,155.03 L563.17,154.04 L562.99,153.05 L562.81,152.06 L562.62,151.08 L562.44,150.09 L562.25,149.11 L562.06,148.12 L561.86,147.14 L561.67,146.15 L561.47,145.16 L561.27,144.18 L561.07,143.20 L560.86,142.21 L560.66,141.23 L560.45,140.24 L560.24,139.26 L560.02,138.28 L559.81,137.29 L559.59,136.31 L559.37,135.33 L559.15,134.35 L558.92,133.36 L558.69,132.38 L558.46,131.40 L558.23,130.42 L558.00,129.44 L557.76,128.46 L557.52,127.48 L557.28,126.50 L557.03,125.52 L556.79,124.54 L556.53,123.56 L556.28,122.58 L556.03,121.60 L555.77,120.63 L555.51,119.65 L555.24,118.67 L554.98,117.69 L554.70,116.71 L554.43,115.74 L554.14,114.76 L553.85,113.79 L553.55,112.82 L553.24,111.85 L552.93,110.88 L552.60,109.92 L552.26,108.97 L551.91,108.01 L551.54,107.07 L551.16,106.13 L550.77,105.19 L550.36,104.26 L549.94,103.34 L549.49,102.43 L549.03,101.52 L548.55,100.63 L548.05,99.74 L547.53,98.86 L546.99,98.00 L546.43,97.14 L545.84,96.30 L545.23,95.47 L544.60,94.65 L543.93,93.84 L543.25,93.05 L542.53,92.27 L541.80,91.52 L541.03,90.79 L540.25,90.09 L539.44,89.42 L538.61,88.79 L537.76,88.19 L536.88,87.64 L535.99,87.13 L535.08,86.67 L534.14,86.26 L533.19,85.91 L532.22,85.62 L531.23,85.40 L530.23,85.25 L529.22,85.18 L528.19,85.18 L527.15,85.26 L526.12,85.43 L525.09,85.67 L524.07,85.97 L523.06,86.32 L522.06,86.72 L521.06,87.16 L520.07,87.63 L519.10,88.12 L518.14,88.63 L517.18,89.15 L516.25,89.68 L515.33,90.20 L514.42,90.71 L513.52,91.23 L512.63,91.74 L511.76,92.25 L510.88,92.76 L510.02,93.25 L509.15,93.74 L508.30,94.23 L507.44,94.70 L506.58,95.17 L505.72,95.63 L504.87,96.09 L504.00,96.54 L503.14,96.97 L502.27,97.41 L501.39,97.83 L500.51,98.24 L499.62,98.65 L498.73,99.05 L497.83,99.44 L496.93,99.82 L496.02,100.20 L495.11,100.57 L494.19,100.93 L493.27,101.28 L492.35,101.62 L491.42,101.96 L490.49,102.28 L489.55,102.60 L488.61,102.92 L487.67,103.22 L486.72,103.52 L485.77,103.80 L484.82,104.08 L483.87,104.36 L482.91,104.62 L481.94,104.88 L480.98,105.12 L480.01,105.36 L479.04,105.59 L478.07,105.82 L477.09,106.03 L476.12,106.24 L475.14,106.44 L474.15,106.63 L473.17,106.81 L472.19,106.98 L471.20,107.15 L470.21,107.30 L469.22,107.45 L468.23,107.59 L467.24,107.72 L466.24,107.85 L465.25,107.96 L464.26,108.07 L463.26,108.17 L462.26,108.26 L461.27,108.34 L460.27,108.41 L459.27,108.48 L458.27,108.53 L457.28,108.58 L456.28,108.60 L455.28,108.62 L454.29,108.62 L453.29,108.62 L452.29,108.61 L451.30,108.58 L450.31,108.55 L449.31,108.50 L448.32,108.45 L447.33,108.39 L446.34,108.31 L445.35,108.23 L444.37,108.14 L443.39,108.03 L442.40,107.92 L441.42,107.79 L440.44,107.65 L439.47,107.51 L438.49,107.35 L437.52,107.18 L436.55,107.00 L435.58,106.81 L434.62,106.60 L433.66,106.39 L432.70,106.16 L431.74,105.93 L430.79,105.68 L429.83,105.43 L428.88,105.16 L427.94,104.88 L426.99,104.59 L426.05,104.30 L425.11,103.99 L424.17,103.67 L423.24,103.34 L422.30,103.01 L421.38,102.66 L420.45,102.31 L419.52,101.95 L418.60,101.58 L417.68,101.21 L416.76,100.82 L415.85,100.43 L414.94,100.03 L414.03,99.62 L413.12,99.20 L412.22,98.78 L411.32,98.35 L410.42,97.91 L409.53,97.46 L408.64,97.01 L407.75,96.55 L406.86,96.09 L405.98,95.61 L405.10,95.14 L404.22,94.65 L403.35,94.16 L402.47,93.66 L401.60,93.16 L400.73,92.66 L399.85,92.16 L398.97,91.66 L398.09,91.17 L397.20,90.69 L396.30,90.22 L395.40,89.76 L394.49,89.32 L393.56,88.90 L392.63,88.50 L391.69,88.12 L390.73,87.77 L389.77,87.45 L388.78,87.17 L387.78,86.92 L386.77,86.70 L385.74,86.53 L384.69,86.40 L383.62,86.32 L382.55,86.29 L381.46,86.31 L380.37,86.37 L379.27,86.49 L378.19,86.65 L377.11,86.86 L376.05,87.12 L375.00,87.42 L373.98,87.78 L372.99,88.18 L372.03,88.64 L371.10,89.14 L370.22,89.68 L369.37,90.27 L368.56,90.90 L367.78,91.56 L367.04,92.26 L366.33,92.98 L365.64,93.74 L364.99,94.52 L364.36,95.33 L363.76,96.15 L363.18,97.00 L362.63,97.86 L362.09,98.74 L361.58,99.63 L361.07,100.52 L360.59,101.43 L360.12,102.35 L359.66,103.26 L359.21,104.18 L358.77,105.10 L358.35,106.03 L357.93,106.96 L357.52,107.89 L357.12,108.82 L356.72,109.75 L356.33,110.69 L355.95,111.63 L355.58,112.57 L355.22,113.51 L354.86,114.45 L354.50,115.40 L354.16,116.35 L353.82,117.30 L353.48,118.25 L353.15,119.20 L352.83,120.15 L352.51,121.11 L352.20,122.06 L351.89,123.02 L351.58,123.97 L351.28,124.93 L350.98,125.89 L350.69,126.85 L350.40,127.81 L350.11,128.78 L349.83,129.74 L349.54,130.70 L349.26,131.66 L348.99,132.63 L348.71,133.59 L348.44,134.56 L348.16,135.52 L347.89,136.49 L347.62,137.45 L347.35,138.42 L347.08,139.38 L346.81,140.35 L346.55,141.31 L346.28,142.28 L346.01,143.24 L345.75,144.21 L345.48,145.18 L345.22,146.14 L344.95,147.11 L344.69,148.08 L344.43,149.04 L344.17,150.01 L343.91,150.98 L343.65,151.95 L343.38,152.92 L343.12,153.88 L342.87,154.85 L342.61,155.82 L342.35,156.79 L342.09,157.76 L341.84,158.73 L341.58,159.70 L341.33,160.67 L341.07,161.64 L340.82,162.61 L340.57,163.58 L340.32,164.55 L340.07,165.52 L339.82,166.49 L339.57,167.46 L339.32,168.43 L339.07,169.41 L338.82,170.38 L338.58,171.35 L338.33,172.32 L338.09,173.30 L337.85,174.27 L337.60,175.24 L337.36,176.22 L337.12,177.19 L336.88,178.16 L336.64,179.14 L336.41,180.11 L336.17,181.09 L335.93,182.06 L335.70,183.04 L335.46,184.01 L335.23,184.99 L335.00,185.96 L334.76,186.94 L334.53,187.91 L334.30,188.89 L334.07,189.87 L333.85,190.84 L333.62,191.82 L333.39,192.80 L333.17,193.78 L332.94,194.75 L332.72,195.73 L332.49,196.71 L332.27,197.69 L332.05,198.67 L331.83,199.64 L331.61,200.62 L331.39,201.60 L331.18,202.58 L330.96,203.56 L330.75,204.54 L330.53,205.52 L330.32,206.50 L330.11,207.48 L329.89,208.46 L329.68,209.44 L329.47,210.42 L329.27,211.40 L329.06,212.39 L328.85,213.37 L328.65,214.35 L328.44,215.33 L328.24,216.31 L328.03,217.29 L327.83,218.28 L327.63,219.26 L327.43,220.24 L327.23,221.23 L327.03,222.21 L326.84,223.19 L326.64,224.18 L326.44,225.16 L326.25,226.14 L326.05,227.13 L325.86,228.11 L325.67,229.10 L325.48,230.08 L325.29,231.06 L325.10,232.05 L324.91,233.03 L324.72,234.02 L324.53,235.01 L324.35,235.99 L324.16,236.98 L323.98,237.96 L323.80,238.95 L323.61,239.93 L323.43,240.92 L323.25,241.91 L323.07,242.89 L322.89,243.88 L322.71,244.87 L322.54,245.85 L322.36,246.84 L322.18,247.83 L322.01,248.82 L321.83,249.80 L321.66,250.79 L321.49,251.78 L321.32,252.77 L321.14,253.76 L320.97,254.75 L320.81,255.73 L320.64,256.72 L320.47,257.71 L320.30,258.70 L320.14,259.69 L319.97,260.68 L319.81,261.67 L319.64,262.66 L319.48,263.65 L319.32,264.64 L319.16,265.63 L318.99,266.62 L318.83,267.61 L318.68,268.60 L318.52,269.59 L318.36,270.58 L318.20,271.57 L318.05,272.56 L317.89,273.55 L317.74,274.54 L317.58,275.53 L317.43,276.52 L317.28,277.51 L317.12,278.51 L316.97,279.50 L316.82,280.49 L316.67,281.48 L316.53,282.47 L316.38,283.46 L316.23,284.46 L316.08,285.45 L315.94,286.44 L315.79,287.43 L315.65,288.43 L315.50,289.42 L315.36,290.41 L315.22,291.40 L315.08,292.40 L314.94,293.39 L314.80,294.38 L314.66,295.38 L314.52,296.37 L314.38,297.36 L314.24,298.36 L314.10,299.35 L313.97,300.34 L313.83,301.34 L313.70,302.33 L313.56,303.32 L313.43,304.32 L313.30,305.31 L313.16,306.31 L313.03,307.30 L312.90,308.29 L312.77,309.29 L312.64,310.28 L312.51,311.28 L312.38,312.27 L312.26,313.27 L312.13,314.26 L312.00,315.25 L311.88,316.25 L311.75,317.24 L311.63,318.24 L311.50,319.23 L311.38,320.23 L311.26,321.22 L311.13,322.22 L311.01,323.21 L310.89,324.21 L310.77,325.21 L310.65,326.20 L310.53,327.20 L310.41,328.19 L310.29,329.19 L310.18,330.18 L310.06,331.18 L309.94,332.17 L309.83,333.17 L309.71,334.17 L309.60,335.16 L309.48,336.16 L309.37,337.15 L309.25,338.15 L309.14,339.14 L309.03,340.14 L308.92,341.14 L308.81,342.13 L308.70,343.13 L308.59,344.12 L308.48,345.12 L308.37,346.12 L308.26,347.11 L308.15,348.11 L308.05,349.11 L307.94,350.10 L307.83,351.10 L307.73,352.09 L307.62,353.09 L307.52,354.09 L307.41,355.08 L307.31,356.08Z" fill="#1a1a1a"/>
<text class="tk" transform="translate(102.0,73.1) scale(1,1.09)" text-anchor="end">700</text>
<text class="tk" transform="translate(102.0,115.1) scale(1,1.09)" text-anchor="end">600</text>
<text class="tk" transform="translate(102.0,157.1) scale(1,1.09)" text-anchor="end">500</text>
<text class="tk" transform="translate(102.0,198.1) scale(1,1.09)" text-anchor="end">400</text>
<text class="tk" transform="translate(102.0,240.1) scale(1,1.09)" text-anchor="end">300</text>
<text class="tk" transform="translate(102.0,281.1) scale(1,1.09)" text-anchor="end">200</text>
<text class="tk" transform="translate(102.0,323.1) scale(1,1.09)" text-anchor="end">100</text>
<text class="tk" transform="translate(102.0,365.1) scale(1,1.09)" text-anchor="end">0</text>
<text class="tk" transform="translate(106.9,378.8) scale(1,1.09)" text-anchor="middle">0</text>
<text class="tk" transform="translate(171.4,378.8) scale(1,1.09)" text-anchor="middle">0.2</text>
<text class="tk" transform="translate(235.5,378.8) scale(1,1.09)" text-anchor="middle">0.4</text>
<text class="tk" transform="translate(298.1,378.8) scale(1,1.09)" text-anchor="middle">0.6</text>
<text class="tk" transform="translate(361.0,378.8) scale(1,1.09)" text-anchor="middle">0.8</text>
<text class="tk" transform="translate(422.8,378.8) scale(1,1.09)" text-anchor="middle">1.0</text>
<text class="tk" transform="translate(486.3,378.8) scale(1,1.09)" text-anchor="middle">1.2</text>
<text class="tk" transform="translate(550.0,378.8) scale(1,1.09)" text-anchor="middle">1.4</text>
<text class="tk" transform="translate(613.9,378.8) scale(1,1.09)" text-anchor="middle">1.6</text>
<text class="tk" transform="translate(676.9,378.8) scale(1,1.09)" text-anchor="middle">1.8</text>
<text class="lb" transform="translate(167.45,41.8) scale(1,1.025)" style="letter-spacing:-0.030px">Tựa chân</text>
<text class="lb" transform="translate(191.20,64.1) scale(1,1.025)" style="letter-spacing:-0.080px">phải</text>
<text class="lb" transform="translate(298.30,41.8) scale(1,1.025)" style="letter-spacing:0.235px">Tựa kép</text>
<text class="lb" transform="translate(420.50,41.8) scale(1,1.025)" style="letter-spacing:0.010px">Tựa chân</text>
<text class="lb" transform="translate(443.85,64.1) scale(1,1.025)" style="letter-spacing:0.240px">trái</text>
<text class="lb" transform="translate(591.30,59.1) scale(1,1.025)" style="letter-spacing:0.070px">Trọng lượng</text>
<text class="lb" transform="translate(590.90,82.5) scale(1,1.025)" style="letter-spacing:0.310px">cơ thể</text>
<text class="lb" transform="translate(283.40,404.7) scale(1,1.025)" style="letter-spacing:0.115px">Thời gian (s)</text>
<text class="lb" transform="translate(55.2,288.80) rotate(-90) scale(1,1.08)" style="letter-spacing:0.020px">Lực</text>
<text class="lb" transform="translate(55.2,248.30) rotate(-90) scale(1,1.08)" style="letter-spacing:-0.260px">thẳng</text>
<text class="lb" transform="translate(55.2,193.95) rotate(-90) scale(1,1.08)" style="letter-spacing:-0.570px">đứng</text>
<text class="lb" transform="translate(55.2,144.10) rotate(-90) scale(1,1.08)" style="letter-spacing:0.270px">(N)</text>
</svg>
</body></html>
